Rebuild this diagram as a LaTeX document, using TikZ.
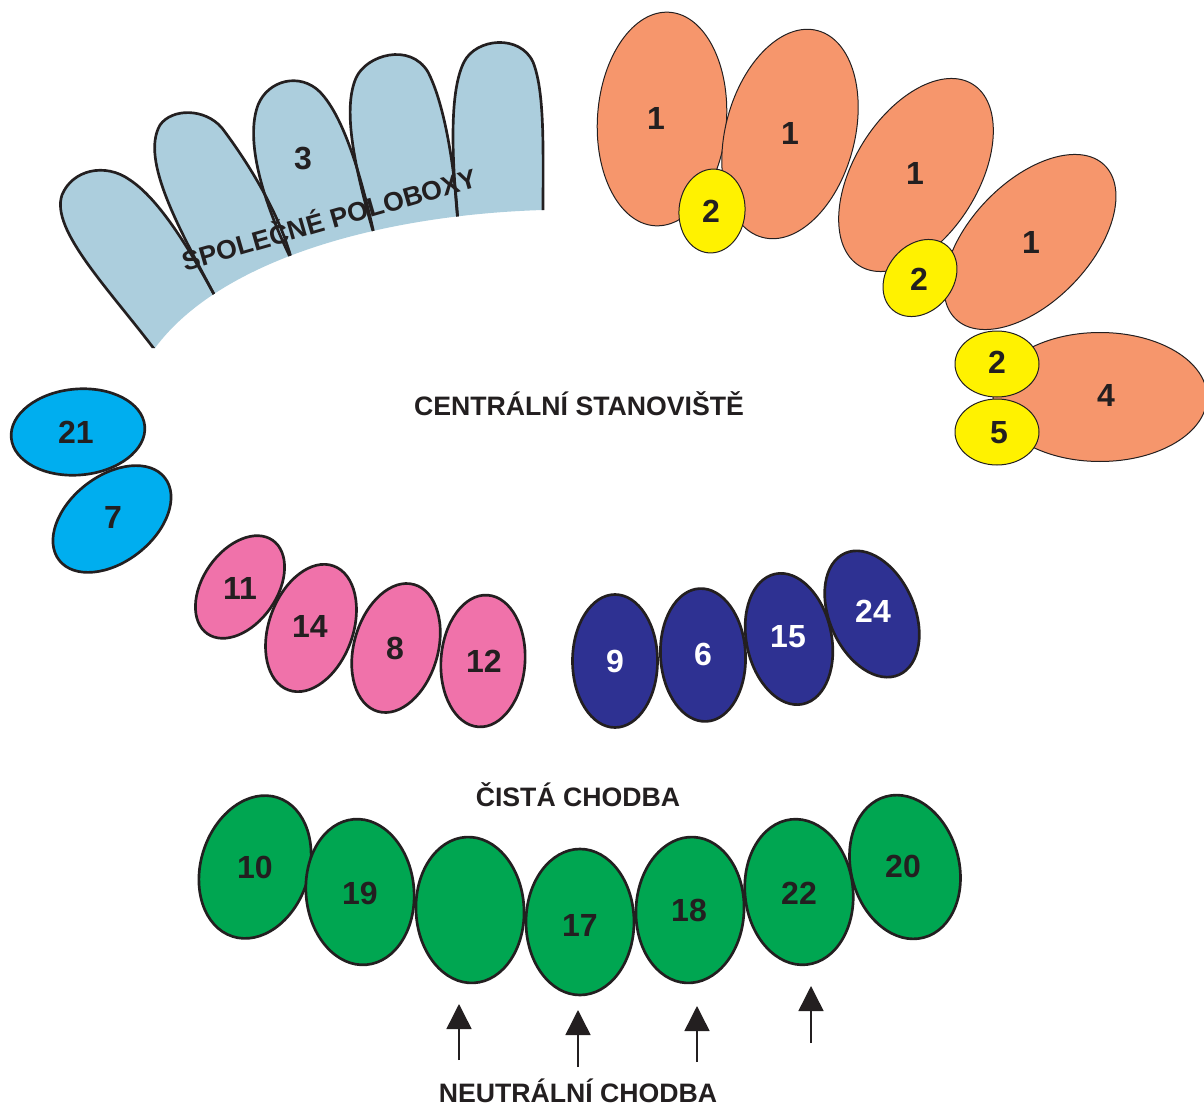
\documentclass[tikz,border=0pt]{standalone}
\usepackage{fontspec}
\setmainfont{Liberation Sans}
\usetikzlibrary{shapes.geometric,arrows.meta}

\definecolor{ink}{RGB}{35,31,32}
\definecolor{salmonfill}{RGB}{246,150,108}
\definecolor{lemonfill}{RGB}{255,242,0}
\definecolor{steelfill}{RGB}{172,206,221}
\definecolor{skyfill}{RGB}{0,174,239}
\definecolor{rosefill}{RGB}{240,114,170}
\definecolor{navyfill}{RGB}{46,49,146}
\definecolor{leaffill}{RGB}{0,166,81}

\tikzset{
  blob/.style={ellipse, inner sep=0pt, outer sep=0pt, draw=ink, line width=2pt},
  thinblob/.style={ellipse, inner sep=0pt, outer sep=0pt, draw=ink, line width=0.75pt},
  oblob/.style={thinblob, fill=salmonfill, minimum width=96.75pt, minimum height=160.5pt},
  yblob/.style={thinblob, fill=lemonfill, minimum width=49.5pt, minimum height=63pt},
  sblob/.style={blob, fill=skyfill, minimum width=100.5pt, minimum height=64.5pt},
  pblob/.style={blob, fill=rosefill, minimum width=63pt, minimum height=99pt},
  nblob/.style={blob, fill=navyfill, minimum width=63.75pt, minimum height=99.75pt},
  gblob/.style={blob, fill=leaffill, minimum width=81pt, minimum height=109.5pt},
  num/.style={text=ink, inner sep=0pt, font=\fontsize{24}{28}\selectfont\bfseries},
  lbl/.style={text=ink, inner sep=0pt, anchor=base, font=\fontsize{20}{24}\selectfont\bfseries},
  uparrow/.style={draw=ink, line width=1.1pt, -{Triangle[length=18.75pt,width=18.75pt]}},
}

\begin{document}
\begin{tikzpicture}[x=0.75pt,y=0.75pt,yscale=-1,xscale=1]
\useasboundingbox (0,0) rectangle (1204,1106);

%Shape: Free Drawing [poloboxy]
\begin{scope}
\clip (543,210) .. controls (380,215) and (220,260) .. (155,348) -- (0,360) -- (0,0) -- (600,0) -- (600,210) -- cycle ;
\fill[steelfill] (158,354) .. controls (110,290) and (50,230) .. (62,195) .. controls (72,170) and (105,162) .. (130,180) .. controls (160,200) and (190,250) .. (216,298) -- cycle ;
\fill[steelfill] (216,298) .. controls (180,230) and (140,160) .. (160,125) .. controls (172,108) and (205,108) .. (222,128) .. controls (250,165) and (280,215) .. (292,261) -- cycle ;
\fill[steelfill] (292,261) .. controls (262,200) and (245,140) .. (258,105) .. controls (268,80) and (300,72) .. (320,92) .. controls (345,118) and (362,180) .. (375,238) -- cycle ;
\fill[steelfill] (375,238) .. controls (355,170) and (342,110) .. (356,78) .. controls (366,55) and (410,42) .. (428,72) .. controls (445,105) and (455,170) .. (458,223) -- cycle ;
\fill[steelfill] (458,223) .. controls (451,150) and (450,90) .. (464,62) .. controls (476,38) and (520,34) .. (533,62) .. controls (545,92) and (543,150) .. (543,216) -- cycle ;
\draw[ink, line width=2pt] (158,354) .. controls (110,290) and (50,230) .. (62,195) .. controls (72,170) and (105,162) .. (130,180) .. controls (160,200) and (190,250) .. (216,298) ;
\draw[ink, line width=2pt] (216,298) .. controls (180,230) and (140,160) .. (160,125) .. controls (172,108) and (205,108) .. (222,128) .. controls (250,165) and (280,215) .. (292,261) ;
\draw[ink, line width=2pt] (292,261) .. controls (262,200) and (245,140) .. (258,105) .. controls (268,80) and (300,72) .. (320,92) .. controls (345,118) and (362,180) .. (375,238) ;
\draw[ink, line width=2pt] (375,238) .. controls (355,170) and (342,110) .. (356,78) .. controls (366,55) and (410,42) .. (428,72) .. controls (445,105) and (455,170) .. (458,223) ;
\draw[ink, line width=2pt] (458,223) .. controls (451,150) and (450,90) .. (464,62) .. controls (476,38) and (520,34) .. (533,62) .. controls (545,92) and (543,150) .. (543,216) ;
\end{scope}

%Shape: Ellipse [orange and yellow]
\node[oblob, rotate=-4] (o1) at (662,119) {};
\node[oblob, rotate=-15] (o2) at (790,134) {};
\node[oblob, rotate=-32, minimum width=93pt] (o3) at (916,175) {};
\node[oblob, rotate=-44, minimum width=90pt] (o4) at (1030,242) {};
\node[oblob, rotate=90] (o5) at (1100,397) {};
\node[yblob, rotate=-5] (y1) at (712,211) {};
\node[yblob, rotate=-40] (y2) at (920,278) {};
\node[yblob, rotate=90] (y3) at (997,364) {};
\node[yblob, rotate=90] (y4) at (997,432) {};

%Shape: Ellipse [blue]
\node[sblob, rotate=5] (b21) at (78,432) {};
\node[sblob, rotate=38] (b7) at (112,519) {};

%Shape: Ellipse [pink]
\node[pblob, rotate=-35, minimum width=55.5pt, minimum height=85.5pt] (p11) at (240,587) {};
\node[pblob, rotate=-20] (p14) at (311,628) {};
\node[pblob, rotate=-16] (p8) at (396,648) {};
\node[pblob, rotate=-4] (p12) at (483,661) {};

%Shape: Ellipse [navy]
\node[nblob] (n9) at (615,661) {};
\node[nblob, rotate=3] (n6) at (703,655) {};
\node[nblob, rotate=12] (n15) at (789,639) {};
\node[nblob, rotate=24] (n24) at (872,614) {};

%Shape: Ellipse [green]
\node[gblob, rotate=-18] (g10) at (255,867) {};
\node[gblob, rotate=5] (g19) at (360,892) {};
\node[gblob, rotate=3] (gx) at (470,910) {};
\node[gblob] (g17) at (580,922) {};
\node[gblob, rotate=-3] (g18) at (690,910) {};
\node[gblob, rotate=6] (g22) at (799,892) {};
\node[gblob, rotate=15] (g20) at (905,867) {};

%Straight Lines [arrows]
\coordinate (t1) at (459,1060); \coordinate (h1) at (459,1004);
\coordinate (t2) at (578,1067); \coordinate (h2) at (578,1010);
\coordinate (t3) at (697,1062); \coordinate (h3) at (697,1006);
\coordinate (t4) at (811,1043); \coordinate (h4) at (811,986);
\draw[uparrow] (t1) -- (h1) ;
\draw[uparrow] (t2) -- (h2) ;
\draw[uparrow] (t3) -- (h3) ;
\draw[uparrow] (t4) -- (h4) ;

% Text Node
\node[num] (l3) at (303,159) {3};
\node[lbl, rotate=16] (poloboxy) at (332,229) {SPOLEČNÉ POLOBOXY};
\node[num] (lo1) at (656,118) {1};
\node[num] (lo2) at (790,133) {1};
\node[num] (lo3) at (915,173) {1};
\node[num] (lo4) at (1031,242) {1};
\node[num] (lo5) at (1106,395) {4};
\node[num] (ly1) at (711,211) {2};
\node[num] (ly2) at (919,279) {2};
\node[num] (ly3) at (997,362) {2};
\node[num] (ly4) at (999,433) {5};
\node[lbl] (central) at (579,415) {CENTRÁLNÍ STANOVIŠTĚ};
\node[num] (lb21) at (76,432) {21};
\node[num] (lb7) at (113,517) {7};
\node[num] (lp11) at (240,588) {11};
\node[num] (lp14) at (310,626) {14};
\node[num] (lp8) at (395,648) {8};
\node[num] (lp12) at (484,661) {12};
\node[num, text=white] (ln9) at (615,661) {9};
\node[num, text=white] (ln6) at (703,654) {6};
\node[num, text=white] (ln15) at (788,637) {15};
\node[num, text=white] (ln24) at (873,611) {24};
\node[lbl] (cista) at (578,806) {ČISTÁ CHODBA};
\node[num] (lg10) at (255,867) {10};
\node[num] (lg19) at (360,893) {19};
\node[num] (lg17) at (580,925) {17};
\node[num] (lg18) at (689,910) {18};
\node[num] (lg22) at (799,893) {22};
\node[num] (lg20) at (903,866) {20};
\node[lbl] (neutral) at (578,1102) {NEUTRÁLNÍ CHODBA};
\end{tikzpicture}
\end{document}
